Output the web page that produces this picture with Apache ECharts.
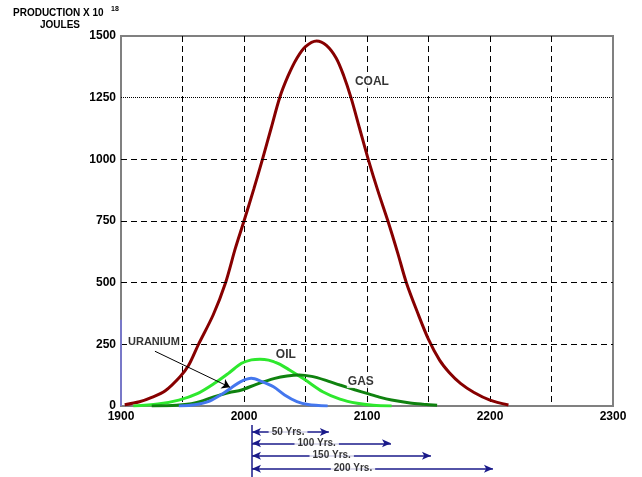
<!DOCTYPE html>
<html>
<head>
<meta charset="utf-8">
<script src="https://cdn.jsdelivr.net/npm/echarts@6/dist/echarts.min.js"></script>
<style>
  html, body { margin: 0; padding: 0; background: #fff; }
  #chart { width: 642px; height: 477px; }
</style>
</head>
<body>
<div id="chart"></div>
<script>
// production curves, [year, production x 10^18 joules]
const coal = [[1903, 5], [1915, 17], [1925, 35], [1936, 62], [1948, 119], [1955, 165], [1963, 250],
  [1975, 370], [1985, 500], [1993, 640], [2000, 750], [2008, 880], [2015, 1000], [2022, 1125],
  [2029, 1250], [2036, 1340], [2043, 1410], [2050, 1457], [2059, 1480], [2067, 1462], [2075, 1410],
  [2081, 1340], [2087, 1250], [2094, 1125], [2101, 1000], [2109, 870], [2117, 750], [2125, 620],
  [2132, 500], [2141, 380], [2150, 270], [2159, 186], [2167, 135], [2176, 92], [2187, 55],
  [2200, 24], [2215, 4]];
const oil = [[1910, 0], [1930, 8], [1947, 24], [1962, 50], [1976, 92], [1988, 135], [1998, 173],
  [2006, 187], [2013, 190], [2020, 186], [2028, 172], [2037, 146], [2050, 105], [2064, 58],
  [2078, 28], [2092, 11], [2105, 3], [2120, 0]];
const gas = [[1925, 0], [1945, 3], [1960, 12], [1976, 38], [1988, 55], [1998, 65], [2010, 88],
  [2025, 112], [2035, 122], [2045, 126], [2055, 120], [2066, 105], [2078, 85], [2090, 66],
  [2100, 51], [2110, 36], [2120, 24], [2135, 12], [2146, 7], [2157, 3]];
const uranium = [[1947, 0], [1960, 5], [1972, 20], [1983, 51], [1990, 75], [1997, 98], [2006, 112],
  [2014, 100], [2024, 78], [2033, 45], [2043, 18], [2052, 6], [2068, 0]];

// curve labels [year, value, text, font size]
const curveLabels = [[2104, 1313, 'COAL', 12], [2034, 207, 'OIL', 12], [2095, 97, 'GAS', 12], [1926.8, 259, 'URANIUM', 11]];
const uraniumArrow = [[1927.6, 222], [1988.6, 76]];

const yGridDashed = [250, 500, 750, 1000];
const yGridDotted = [1250];

// time spans below the axis
const spanStart = 2006.5;
const spanEnds = [2069, 2119.5, 2152, 2202.4];
const spanNames = ['50 Yrs.', '100 Yrs.', '150 Yrs.', '200 Yrs.'];
const spanLabelX = [2035.8, 2059.1, 2071.3, 2088.6];
const spanRows = [12, 23.3, 35.7, 48.7];

const navy = '#1a1a8a';

let chart = echarts.init(document.getElementById('chart'), null, {renderer: 'canvas'});

let gridMarks = [];
yGridDashed.forEach(v => gridMarks.push({yAxis: v, lineStyle: {type: [6, 4], color: '#000', width: 1}}));
yGridDotted.forEach(v => gridMarks.push({yAxis: v, lineStyle: {type: [1, 1], color: '#000', width: 1}}));
gridMarks.push([
  {coord: [1900, 0], lineStyle: {type: 'solid', color: '#7878c8', width: 2}},
  {coord: [1900, 350]}
]);

let spanLines = spanEnds.map((e, i) => [
  {coord: [spanStart, spanRows[i]]},
  {coord: [e, spanRows[i]]}
]);

let option = {
  animation: false,
  textStyle: {fontFamily: 'Liberation Sans'},
  grid: [
    {left: 121, right: 29, top: 36, bottom: 71, show: true, borderColor: '#808080', borderWidth: 2},
    {left: 121, right: 29, top: 420, height: 57}
  ],
  xAxis: [
    {
      type: 'value', min: 1900, max: 2300, interval: 50, gridIndex: 0,
      axisLine: {show: false},
      axisTick: {show: false},
      axisLabel: {
        margin: 5, fontSize: 12, fontWeight: 'bold', color: '#000',
        formatter: v => (v % 100 === 0 ? String(v) : '')
      },
      splitLine: {show: true, showMinLine: false, showMaxLine: false, lineStyle: {type: [6, 4], color: '#000', width: 1}}
    },
    {type: 'value', min: 1900, max: 2300, gridIndex: 1, show: false}
  ],
  yAxis: [
    {
      type: 'value', min: 0, max: 1500, interval: 250, gridIndex: 0,
      axisLine: {show: false},
      axisTick: {show: false},
      axisLabel: {margin: 5, fontSize: 12, fontWeight: 'bold', color: '#000', formatter: v => String(v)},
      splitLine: {show: false}
    },
    {type: 'value', min: 0, max: 57, inverse: true, gridIndex: 1, show: false}
  ],
  series: [
    {
      name: 'grid', type: 'line', data: [], silent: true,
      markLine: {silent: true, symbol: 'none', label: {show: false}, data: gridMarks}
    },
    {name: 'Coal', type: 'line', data: coal, smooth: 0.3, showSymbol: false, lineStyle: {color: '#870000', width: 3}, z: 3},
    {name: 'Oil', type: 'line', data: oil, smooth: 0.3, showSymbol: false, lineStyle: {color: '#2ee82e', width: 3}, z: 3},
    {name: 'Gas', type: 'line', data: gas, smooth: 0.3, showSymbol: false, lineStyle: {color: '#0f820f', width: 3}, z: 3},
    {name: 'Uranium', type: 'line', data: uranium, smooth: 0.3, showSymbol: false, lineStyle: {color: '#4477ee', width: 3}, z: 3},
    {
      name: 'labels', type: 'scatter', symbolSize: 0, z: 5,
      data: curveLabels.map(d => ({value: [d[0], d[1]], name: d[2], label: {fontSize: d[3]}})),
      label: {
        show: true, position: 'inside', formatter: p => p.name,
        fontSize: 12, fontWeight: 'bold', color: '#000', backgroundColor: '#fff', padding: [0, 1]
      },
      markLine: {
        silent: true, symbol: ['none', 'arrow'], symbolSize: 8,
        label: {show: false},
        lineStyle: {type: 'solid', color: '#000', width: 1},
        data: [[{coord: uraniumArrow[0]}, {coord: uraniumArrow[1]}]]
      }
    },
    {
      name: 'spans', type: 'scatter', xAxisIndex: 1, yAxisIndex: 1, symbolSize: 0, z: 5,
      data: spanNames.map((n, i) => ({value: [spanLabelX[i], spanRows[i]], name: n})),
      label: {
        show: true, position: 'inside', formatter: p => p.name,
        fontSize: 10, fontWeight: 'bold', color: '#000', backgroundColor: '#fff', padding: [0, 3]
      },
      markLine: {
        silent: true, symbol: ['arrow', 'arrow'], symbolSize: [6, 9],
        label: {show: false},
        lineStyle: {type: 'solid', color: navy, width: 1.5},
        data: spanLines.concat([[
          {coord: [spanStart, 5], symbol: 'none'},
          {coord: [spanStart, 57], symbol: 'none'}
        ]])
      }
    }
  ],
  graphic: [
    {type: 'text', left: 13, top: 8, style: {text: 'PRODUCTION X 10', font: 'bold 10px "Liberation Sans"', fill: '#000'}},
    {type: 'text', left: 111, top: 6, style: {text: '18', font: 'bold 7px "Liberation Sans"', fill: '#000'}},
    {type: 'text', left: 40, top: 20, style: {text: 'JOULES', font: 'bold 10px "Liberation Sans"', fill: '#000'}}
  ]
};

chart.setOption(option);
window.addEventListener('resize', function () {
  chart.resize();
});
</script>
</body>
</html>
